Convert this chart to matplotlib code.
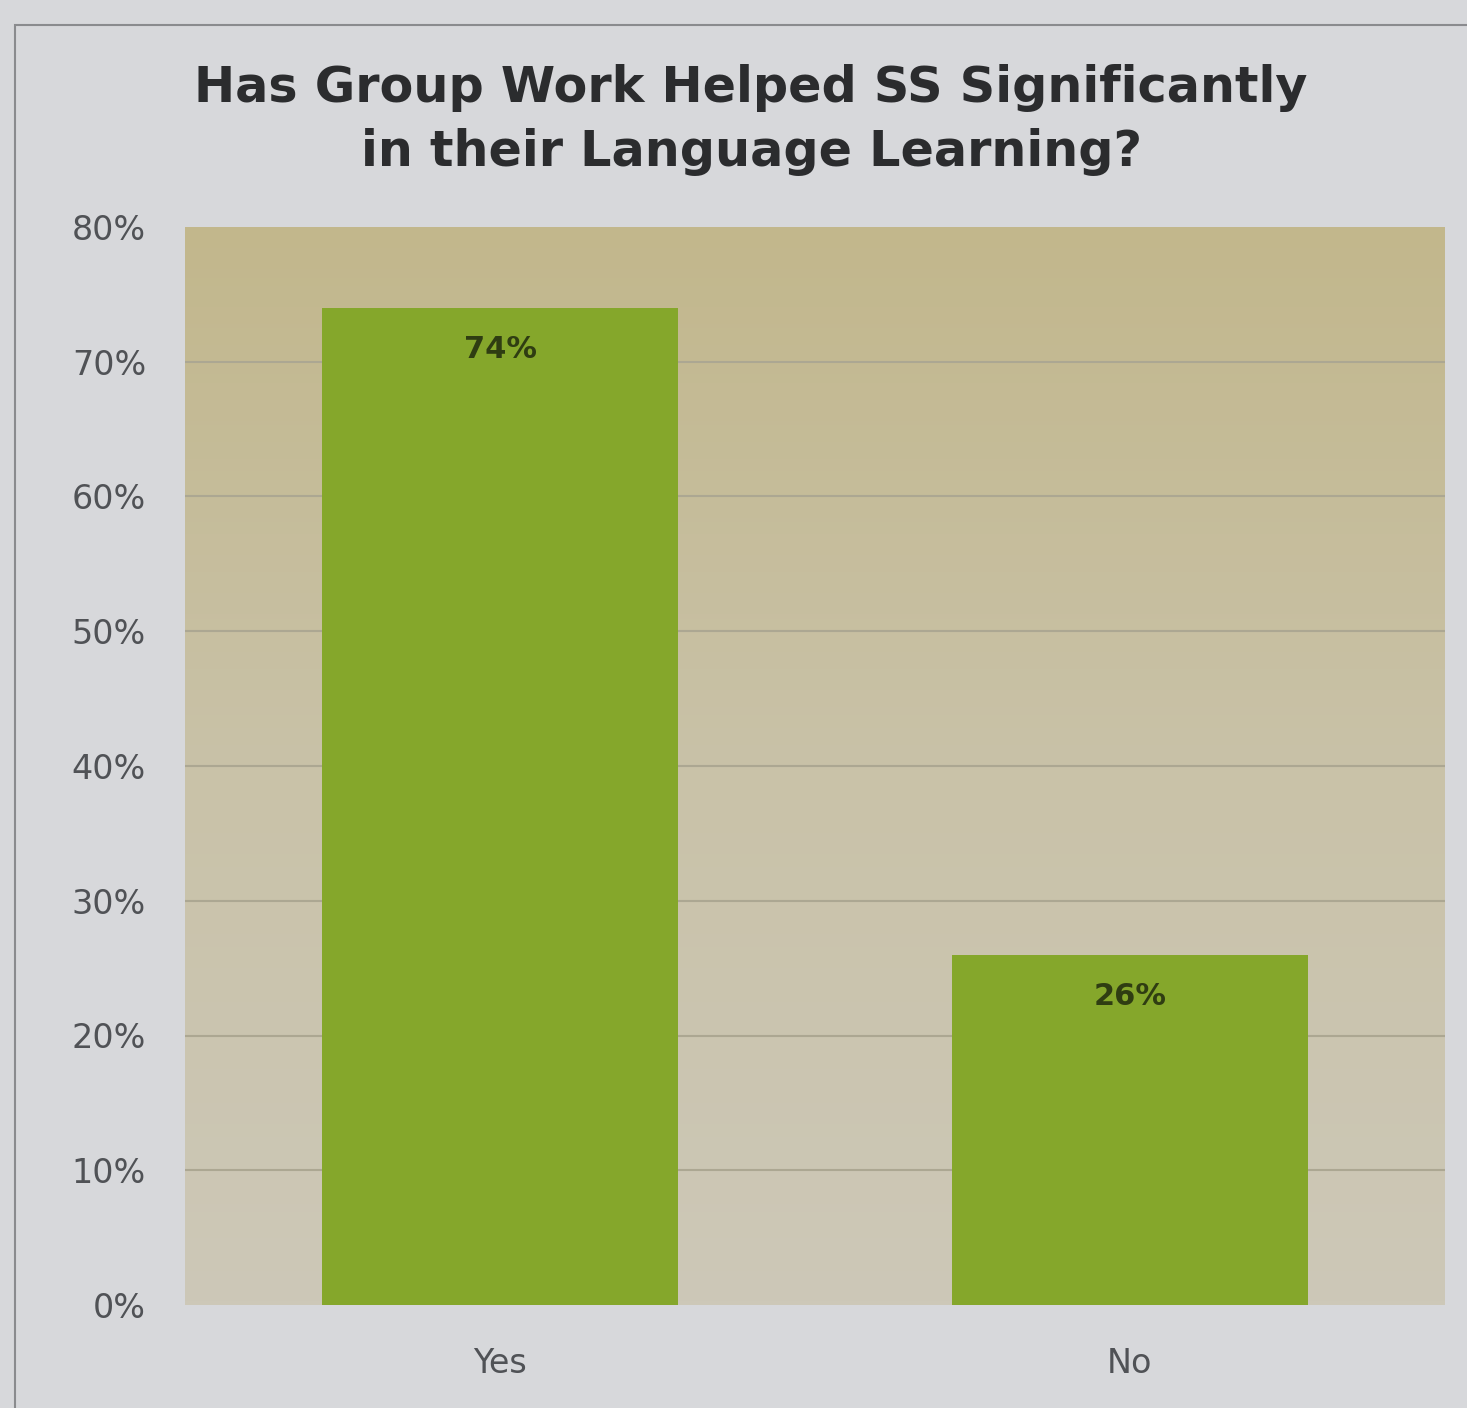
import numpy as np
import matplotlib.pyplot as plt
from matplotlib.patches import Rectangle
from matplotlib.colors import LinearSegmentedColormap

categories = ["Yes", "No"]
shares = [74, 26]
y_ticks = [0, 10, 20, 30, 40, 50, 60, 70, 80]

plt.rcParams["font.family"] = "DejaVu Sans"

fig = plt.figure(figsize=(14.67, 14.08), dpi=100)
fig.patch.set_facecolor("#d7d8db")

# thin chart frame
fig.patches.append(Rectangle((15 / 1467, -0.01), 1.0, 1 - 25 / 1408 + 0.01,
                             transform=fig.transFigure, fill=False,
                             edgecolor="#8a8b8e", linewidth=1.5))

ax = fig.add_axes([185 / 1467, 1 - 1305 / 1408, 1260 / 1467, 1078 / 1408])
ax.set_xlim(-0.5, 1.5)
ax.set_ylim(0, 80)

# plot area: khaki at the top fading to pale beige
bg = LinearSegmentedColormap.from_list("bg", ["#cdc8b8", "#c9c2a8", "#c2b78c"])
grad = np.linspace(0, 1, 256).reshape(-1, 1)
ax.imshow(grad, cmap=bg, aspect="auto", origin="lower",
          extent=[-0.5, 1.5, 0, 80], zorder=0)

for t in y_ticks[1:-1]:
    ax.axhline(t, color="#aca792", linewidth=1.5, zorder=1)

bars = ax.bar(categories, shares, width=0.565, color="#85a72b", zorder=2)
for b, v in zip(bars, shares):
    ax.text(b.get_x() + b.get_width() / 2, v - 3.1, f"{v}%",
            ha="center", va="center", fontsize=22, fontweight="bold",
            color="#2f3d12", zorder=3)

ax.set_yticks(y_ticks)
ax.set_yticklabels([f"{t}%" for t in y_ticks], fontsize=24, color="#505256")
ax.tick_params(axis="x", labelsize=24, labelcolor="#505256", length=0, pad=30)
ax.tick_params(axis="y", length=0, pad=28)
for s in ax.spines.values():
    s.set_visible(False)

fig.text(0.512, 1 - 120 / 1408,
         "Has Group Work Helped SS Significantly\nin their Language Learning?",
         ha="center", va="center", fontsize=35.5, fontweight="bold",
         color="#2b2c2e", linespacing=1.42)

fig.savefig("out.png", dpi=100, facecolor=fig.get_facecolor())
